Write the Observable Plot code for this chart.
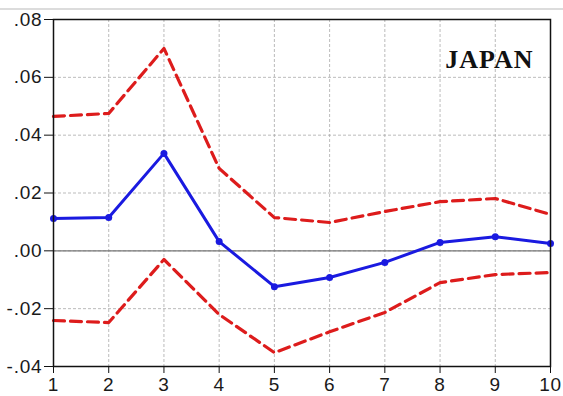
<!DOCTYPE html>
<html>
<head>
<meta charset="utf-8">
<script src="https://cdn.jsdelivr.net/npm/d3@7"></script>
<script src="https://cdn.jsdelivr.net/npm/@observablehq/plot@0.6"></script>
<style>
  html, body { margin: 0; padding: 0; background: #fff; }
  #wrap { position: relative; width: 563px; height: 396px; overflow: hidden; }
  #topline { position: absolute; left: 0; top: 8px; width: 563px; height: 0; border-top: 2px solid #dcdcdc; }
</style>
</head>
<body>
<div id="wrap"><div id="topline"></div><div id="chart"></div></div>
<script>
const periods = [1, 2, 3, 4, 5, 6, 7, 8, 9, 10];
const response = [0.0112, 0.0115, 0.0337, 0.0032, -0.0124, -0.0092, -0.0040, 0.0029, 0.0049, 0.0025];
const upperBand = [0.0465, 0.0475, 0.0700, 0.0285, 0.0115, 0.0098, 0.0136, 0.0170, 0.0181, 0.0126];
const lowerBand = [-0.0241, -0.0248, -0.0030, -0.0220, -0.0352, -0.0280, -0.0213, -0.0110, -0.0082, -0.0075];
const yTicks = [-0.04, -0.02, 0, 0.02, 0.04, 0.06, 0.08];
const yTickLabels = ["-.04", "-.02", ".00", ".02", ".04", ".06", ".08"];
const title = "JAPAN";

const resp = periods.map((p, i) => ({p, v: response[i]}));
const up = periods.map((p, i) => ({p, v: upperBand[i]}));
const lo = periods.map((p, i) => ({p, v: lowerBand[i]}));
const yFmt = d => yTickLabels[yTicks.findIndex(t => Math.abs(t - d) < 1e-9)];

const chart = Plot.plot({
  width: 563,
  height: 396,
  marginTop: 19,
  marginLeft: 53,
  marginRight: 13,
  marginBottom: 30,
  style: {fontFamily: "Arial, 'Liberation Sans', sans-serif", fontSize: "19px", color: "#1a1a1a", background: "transparent"},
  x: {domain: [1, 10], ticks: periods, label: null},
  y: {domain: [-0.04, 0.08], ticks: yTicks, label: null},
  marks: [
    Plot.gridX(periods, {stroke: "#aaa", strokeOpacity: 1, strokeWidth: 0.8, strokeDasharray: "3,2"}),
    Plot.gridY(yTicks, {stroke: "#aaa", strokeOpacity: 1, strokeWidth: 0.8, strokeDasharray: "3,2"}),
    Plot.ruleY([0], {stroke: "#777", strokeWidth: 1.3}),
    Plot.line(up, {x: "p", y: "v", stroke: "#dd1c1c", strokeWidth: 3.2, strokeDasharray: "11,6"}),
    Plot.line(lo, {x: "p", y: "v", stroke: "#dd1c1c", strokeWidth: 3.2, strokeDasharray: "11,6"}),
    Plot.line(resp, {x: "p", y: "v", stroke: "#1a1ae0", strokeWidth: 3}),
    Plot.dot(resp, {x: "p", y: "v", fill: "#1a1ae0", r: 3.5}),
    Plot.frame({stroke: "#111", strokeWidth: 1.5}),
    Plot.axisX({ticks: periods, tickFormat: d => String(d), tickSize: 7, tickPadding: 4, stroke: "#111"}),
    Plot.axisY({ticks: yTicks, tickFormat: yFmt, tickSize: 9, tickPadding: 2, stroke: "#111"}),
    Plot.text([title], {frameAnchor: "top-right", dx: -17, dy: 30, text: d => d, fontFamily: "'Liberation Serif', 'Times New Roman', serif", fontWeight: "bold", fontSize: 26, fill: "#111"})
  ]
});
document.getElementById("chart").appendChild(chart);
const svg = d3.select(chart);
svg.selectAll('g[aria-label="y-axis tick label"] text, g[aria-label="x-axis tick label"] text')
  .style("font-size", "19px")
  .style("letter-spacing", "0.8px");
svg.selectAll('g[aria-label="text"] text')
  .style("font-size", "26px")
  .style("letter-spacing", "1px");
</script>
</body>
</html>
